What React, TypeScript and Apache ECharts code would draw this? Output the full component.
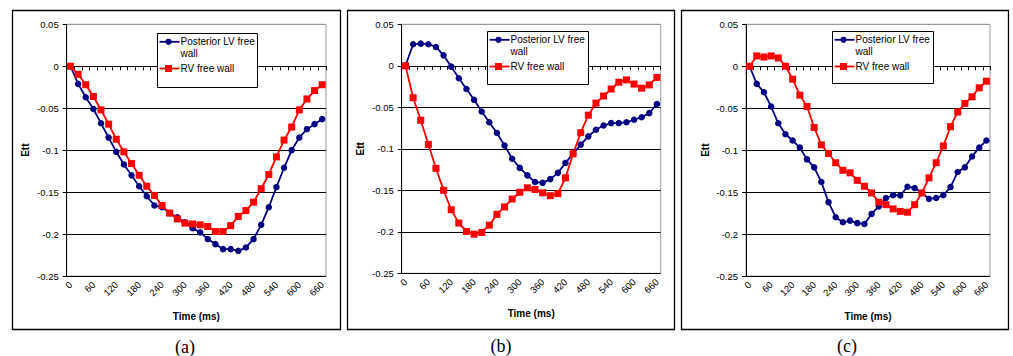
import React, { useEffect, useRef } from "react";
import * as echarts from "echarts";

const TIME_MS = ["0","20","40","60","80","100","120","140","160","180","200","220","240","260","280","300","320","340","360","380","400","420","440","460","480","500","520","540","560","580","600","620","640","660"];

const SERIES_NAMES = ["Posterior LV free wall", "RV free wall"];
const CAPTIONS = ["(a)", "(b)", "(c)"];

// Panel (a)
const LV_A = [0, -0.021, -0.037, -0.051, -0.068, -0.085, -0.102, -0.117, -0.130, -0.143, -0.155, -0.166, -0.168, -0.175, -0.180, -0.186, -0.193, -0.198, -0.206, -0.212, -0.218, -0.218, -0.220, -0.216, -0.206, -0.189, -0.168, -0.144, -0.121, -0.100, -0.085, -0.075, -0.069, -0.063];
const RV_A = [0, -0.0096, -0.022, -0.036, -0.052, -0.069, -0.087, -0.102, -0.116, -0.130, -0.143, -0.154, -0.166, -0.175, -0.182, -0.187, -0.188, -0.189, -0.191, -0.197, -0.197, -0.190, -0.179, -0.172, -0.162, -0.146, -0.129, -0.108, -0.088, -0.0725, -0.052, -0.039, -0.029, -0.022];
// Panel (b)
const LV_B = [0, 0.026, 0.0267, 0.026, 0.0227, 0.0126, -0.001, -0.015, -0.028, -0.041, -0.055, -0.068, -0.081, -0.096, -0.112, -0.123, -0.132, -0.140, -0.141, -0.1365, -0.129, -0.117, -0.106, -0.095, -0.085, -0.077, -0.072, -0.069, -0.069, -0.068, -0.065, -0.062, -0.057, -0.046];
const RV_B = [0, -0.0385, -0.0656, -0.0947, -0.1235, -0.150, -0.1734, -0.1895, -0.1996, -0.2028, -0.2008, -0.192, -0.179, -0.170, -0.1605, -0.1524, -0.147, -0.149, -0.153, -0.1565, -0.154, -0.135, -0.106, -0.0806, -0.0595, -0.045, -0.0364, -0.028, -0.0198, -0.017, -0.022, -0.027, -0.023, -0.014];
// Panel (c)
const LV_C = [0, -0.021, -0.031, -0.048, -0.068, -0.081, -0.0885, -0.097, -0.111, -0.1205, -0.138, -0.162, -0.180, -0.186, -0.184, -0.187, -0.188, -0.176, -0.167, -0.157, -0.1536, -0.154, -0.1436, -0.1452, -0.151, -0.158, -0.157, -0.1536, -0.144, -0.126, -0.1205, -0.1075, -0.097, -0.0885];
const RV_C = [0, 0.0123, 0.011, 0.0123, 0.0099, 0, -0.0154, -0.0344, -0.048, -0.073, -0.0937, -0.104, -0.115, -0.124, -0.127, -0.136, -0.143, -0.151, -0.162, -0.165, -0.170, -0.173, -0.174, -0.165, -0.151, -0.133, -0.115, -0.095, -0.072, -0.0545, -0.0443, -0.0364, -0.0257, -0.0178];

const LV_DATA = [LV_A, LV_B, LV_C];
const RV_DATA = [RV_A, RV_B, RV_C];

const Y_MIN = -0.25;
const Y_MAX = 0.05;
const Y_STEP = 0.05;

const LAYOUT = [
  { box: [12, 10, 328, 319], grid: { left: 66.7, top: 24.3, width: 259.3, height: 251.7 }, legend: [157, 33, 100, 54], caption: [185, 346.5] },
  { box: [347, 10, 327, 319], grid: { left: 401.7, top: 24.3, width: 259, height: 249 }, legend: [487, 31, 101, 53], caption: [501, 346] },
  { box: [681, 10, 327, 319], grid: { left: 746, top: 24.3, width: 244, height: 251.7 }, legend: [832, 31, 101, 52], caption: [847, 346] },
];

const LV_COLOR = "#000080";
const RV_COLOR = "#ff0000";
const FONT = "Arial, 'Liberation Sans', sans-serif";

function legendGraphic(lx: number, ly: number, w: number, h: number) {
  const els: any[] = [];
  els.push({ type: "rect", z: 100, shape: { x: lx + 0.5, y: ly + 0.5, width: w, height: h }, style: { fill: "#fff", stroke: "#000", lineWidth: 1 } });
  const rows = [
    { y: ly + 8.8, color: LV_COLOR, sym: "circle", text: "Posterior LV free" },
    { y: ly + 35.5, color: RV_COLOR, sym: "rect", text: "RV free wall" },
  ];
  rows.forEach((r) => {
    els.push({ type: "line", z: 101, shape: { x1: lx + 2.5, y1: r.y, x2: lx + 22.5, y2: r.y }, style: { stroke: r.color, lineWidth: 1.8 } });
    if (r.sym === "circle") {
      els.push({ type: "circle", z: 102, shape: { cx: lx + 11.5, cy: r.y, r: 3.1 }, style: { fill: r.color } });
    } else {
      els.push({ type: "rect", z: 102, shape: { x: lx + 8, y: r.y - 3.5, width: 7, height: 7 }, style: { fill: r.color } });
    }
    els.push({ type: "text", z: 102, style: { text: r.text, x: lx + 23.5, y: r.y, fill: "#000", fontSize: 10, fontFamily: FONT, verticalAlign: "middle", align: "left" } });
  });
  els.push({ type: "text", z: 102, style: { text: "wall", x: lx + 23.5, y: ly + 20.3, fill: "#000", fontSize: 10, fontFamily: FONT, verticalAlign: "middle", align: "left" } });
  return els;
}

export default function App() {
  const ref = useRef<HTMLDivElement>(null);
  useEffect(() => {
    if (!ref.current) return;
    const chart = echarts.init(ref.current, null, { renderer: "svg" });
    const grids: any[] = [];
    const xAxes: any[] = [];
    const yAxes: any[] = [];
    const series: any[] = [];
    const graphic: any[] = [];

    LAYOUT.forEach((p, i) => {
      grids.push({ ...p.grid, show: true, borderColor: "#999", borderWidth: 1, backgroundColor: "transparent", containLabel: false });
      xAxes.push({
        type: "category",
        gridIndex: i,
        data: TIME_MS,
        boundaryGap: true,
        name: "Time (ms)",
        nameLocation: "middle",
        nameGap: 35,
        nameTextStyle: { fontSize: 10, fontWeight: "bold", color: "#000", fontFamily: FONT },
        axisLine: { lineStyle: { color: "#000", width: 1 } },
        axisTick: { show: true, interval: 0, length: 4, lineStyle: { color: "#000", width: 1 } },
        axisLabel: { interval: 2, rotate: 45, fontSize: 9.5, color: "#000", fontFamily: FONT, margin: 7 },
        splitLine: { show: false },
      });
      yAxes.push({
        type: "value",
        gridIndex: i,
        min: Y_MIN,
        max: Y_MAX,
        interval: Y_STEP,
        name: "Ett",
        nameLocation: "middle",
        nameRotate: 90,
        nameGap: 36,
        nameTextStyle: { fontSize: 10, fontWeight: "bold", color: "#000", fontFamily: FONT },
        axisLine: { show: true, lineStyle: { color: "#000", width: 1 } },
        axisTick: { show: true, length: 4, lineStyle: { color: "#000" } },
        axisLabel: { fontSize: 9.5, color: "#000", fontFamily: FONT, margin: 8, formatter: (v: number) => String(Math.round(v * 100) / 100) },
        splitLine: { show: true, lineStyle: { color: ["#000", "#000", "#000", "#000", "#000", "#000", "#999"], width: 1 } },
      });
      series.push({
        type: "line",
        name: SERIES_NAMES[0],
        xAxisIndex: i,
        yAxisIndex: i,
        data: LV_DATA[i],
        symbol: "circle",
        symbolSize: 6.5,
        showAllSymbol: true,
        itemStyle: { color: LV_COLOR },
        lineStyle: { color: LV_COLOR, width: 1.8 },
        z: 3,
      });
      series.push({
        type: "line",
        name: SERIES_NAMES[1],
        xAxisIndex: i,
        yAxisIndex: i,
        data: RV_DATA[i],
        symbol: "rect",
        symbolSize: 7,
        showAllSymbol: true,
        itemStyle: { color: RV_COLOR },
        lineStyle: { color: RV_COLOR, width: 1.8 },
        z: 4,
      });
      const [bx, by, bw, bh] = p.box;
      graphic.push({ type: "rect", z: 0, silent: true, shape: { x: bx + 0.5, y: by + 0.5, width: bw, height: bh }, style: { fill: "transparent", stroke: "#000", lineWidth: 1.3 } });
      const [lx, ly, lw, lh] = p.legend;
      graphic.push(...legendGraphic(lx, ly, lw, lh));
      graphic.push({ type: "text", z: 10, style: { text: CAPTIONS[i], x: p.caption[0], y: p.caption[1], fill: "#000", fontSize: 18, fontFamily: "'Times New Roman', 'Liberation Serif', serif", align: "center", verticalAlign: "middle" } });
    });

    chart.setOption({
      animation: false,
      backgroundColor: "#fff",
      textStyle: { fontFamily: FONT },
      grid: grids,
      xAxis: xAxes,
      yAxis: yAxes,
      series,
      graphic,
    });
    return () => chart.dispose();
  }, []);
  return <div ref={ref} style={{ position: "fixed", left: 0, top: 0, width: 1013, height: 356 }} />;
}
